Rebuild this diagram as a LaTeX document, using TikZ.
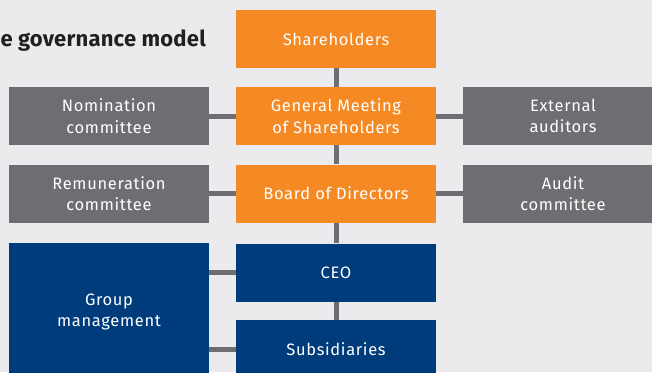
\documentclass[tikz,border=0pt]{standalone}
\usepackage{fontspec}
\setmainfont{Fira Sans}
\newfontfamily\boxfont[LetterSpace=4]{Fira Sans}
\newfontfamily\titlefont[LetterSpace=1]{Fira Sans}
\usepackage{xcolor}
\usepackage{tikz}
\definecolor{govorange}{HTML}{F58A24}
\definecolor{govgray}{HTML}{6D6E71}
\definecolor{govnavy}{HTML}{003C7B}
\definecolor{govback}{HTML}{EBEBED}
\definecolor{govtitle}{HTML}{231F20}
\tikzstyle{basebox} = [rectangle, inner sep=0pt, text=white, align=center,
minimum width=200pt, minimum height=58pt, font=\boxfont\fontsize{16.5}{21.5}\selectfont]
\tikzstyle{ownerbox} = [basebox, fill=govorange]
\tikzstyle{sidebox} = [basebox, fill=govgray]
\tikzstyle{mgmtbox} = [basebox, fill=govnavy]
\tikzstyle{link} = [draw=govgray, line width=5pt]

\begin{document}
\begin{tikzpicture}[x=1pt, y=-1pt]
        \useasboundingbox (0,0) rectangle (652,372);
        \clip (0,0) rectangle (652,372);
        \fill[govback] (0,0) rectangle (652,372);
        % title, cut at the left edge
        \node[anchor=base east, inner sep=0pt, text=govtitle,
            font=\titlefont\fontsize{22}{26}\selectfont\bfseries] (title) at (206,46) {e governance model};
        % owners and board
        \node [ownerbox] (share) at (336,39) {Shareholders};
        \node [ownerbox] (meeting) at (336,116) {General Meeting\\of Shareholders};
        \node [ownerbox] (board) at (336,193.5) {Board of Directors};
        % committees and auditors
        \node [sidebox] (nomin) at (109,116) {Nomination\\committee};
        \node [sidebox] (remun) at (109,193.5) {Remuneration\\committee};
        \node [sidebox] (extaud) at (563,116) {External\\auditors};
        \node [sidebox] (audit) at (563,193.5) {Audit\\committee};
        % management
        \node [mgmtbox] (ceo) at (336,272.5) {CEO};
        \node [mgmtbox] (subs) at (336,349) {Subsidiaries};
        \node [mgmtbox, minimum height=138pt] (group) at (109,312) {Group\\management};
        % connectors
        \draw[link] (share.south) -- (meeting.north);
        \draw[link] (meeting.south) -- (board.north);
        \draw[link] (board.south) -- (ceo.north);
        \draw[link] (ceo.south) -- (subs.north);
        \draw[link] (nomin.east) -- (meeting.west);
        \draw[link] (meeting.east) -- (extaud.west);
        \draw[link] (remun.east) -- (board.west);
        \draw[link] (board.east) -- (audit.west);
        \draw[link] (group.east |- ceo.west) -- (ceo.west);
        \draw[link] (group.east |- subs.west) -- (subs.west);
\end{tikzpicture}
\end{document}
